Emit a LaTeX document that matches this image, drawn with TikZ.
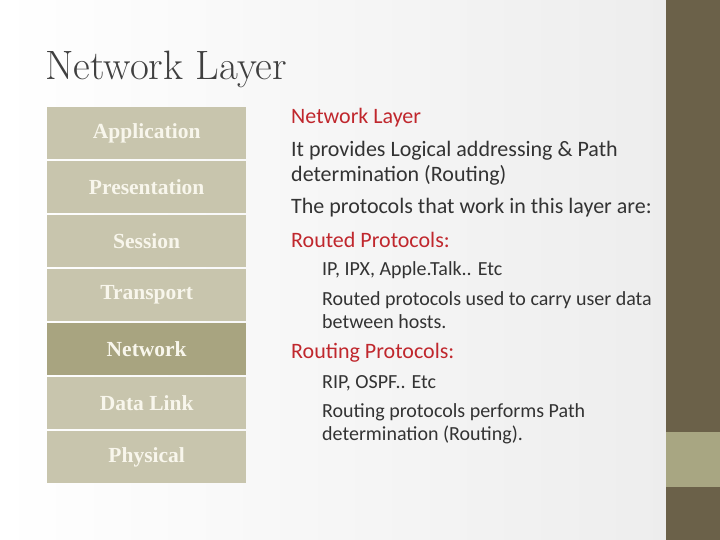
\documentclass[tikz,border=0pt]{standalone}
\usepackage{fontspec}
\setsansfont{Carlito}
\newfontfamily\boxfont{Liberation Serif}
\begin{document}
\begin{tikzpicture}[x=1pt,y=-1pt,
  layer/.style={fill=boxc,draw=none,minimum width=199pt,minimum height=52pt,inner sep=0pt,
    font=\boxfont\fontsize{21.5}{23}\selectfont\bfseries,text=boxt,anchor=north west},
  red/.style={text=redc,anchor=west,font=\sffamily\fontsize{22}{26}\selectfont,inner sep=0pt},
  body/.style={text=bodyc,anchor=west,font=\sffamily\fontsize{22}{26}\selectfont,inner sep=0pt,align=left},
  sub/.style={text=bodyc,anchor=west,font=\sffamily\fontsize{20}{24}\selectfont,inner sep=0pt,align=left}]
\definecolor{boxc}{HTML}{C8C5AD}
\definecolor{netc}{HTML}{A8A480}
\definecolor{boxt}{HTML}{F8F6EC}
\definecolor{redc}{HTML}{C0272D}
\definecolor{bodyc}{HTML}{333333}
\definecolor{stripd}{HTML}{6B6149}
\definecolor{stripl}{HTML}{A8A682}
\useasboundingbox (0,0) rectangle (720,540);
\shade[left color=white,right color=black!7] (0,0) rectangle (666,540);
\fill[stripd] (666,0) rectangle (720,540);
\fill[stripl] (666,432) rectangle (720,487);
\node[anchor=west,inner sep=0pt,text=black!75,font=\fontsize{41}{44}\selectfont] (title) at (45,69) {Network Layer};
\node[layer] (l1) at (47,107) {Application};
\node[layer] (l2) at (47,161) {Presentation};
\node[layer] (l3) at (47,215) {Session};
\node[layer] (l4) at (47,269) {Transport};
\node[layer,fill=netc] (l5) at (47,323) {Network};
\node[layer] (l6) at (47,377) {Data Link};
\node[layer] (l7) at (47,431) {Physical};
\node[red] (t1) at (291,118) {Network Layer};
\node[body] (t2) at (291,163) {It provides Logical addressing \& Path\\[-1pt]determination (Routing)};
\node[body] (t3) at (291,208) {The protocols that work in this layer are:};
\node[red] (t4) at (291,240) {Routed Protocols:};
\node[sub] (t5) at (322,270) {IP, IPX, Apple.Talk.. Etc};
\node[sub] (t6) at (322,310) {Routed protocols used to carry user data\\[-1pt]between hosts.};
\node[red] (t7) at (291,353) {Routing Protocols:};
\node[sub] (t8) at (322,383) {RIP, OSPF.. Etc};
\node[sub] (t9) at (322,424) {Routing protocols performs Path\\[-1pt]determination (Routing).};
\end{tikzpicture}
\end{document}
